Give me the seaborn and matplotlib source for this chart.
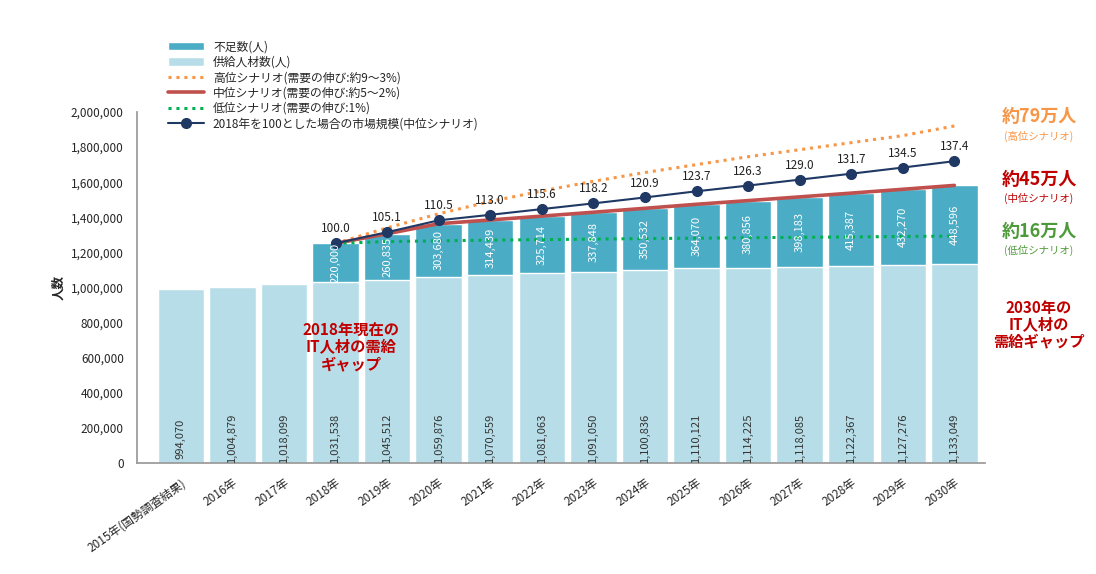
import matplotlib
matplotlib.use("Agg")
import matplotlib.pyplot as plt
import seaborn as sns
import pandas as pd
import numpy as np

sns.set_theme(style="white")
plt.rcParams['font.family'] = ['Noto Sans CJK JP', 'DejaVu Sans']

years = ["2015年(国勢調査結果)", "2016年", "2017年", "2018年", "2019年", "2020年", "2021年", "2022年",
         "2023年", "2024年", "2025年", "2026年", "2027年", "2028年", "2029年", "2030年"]
supply = [994070, 1004879, 1018099, 1031538, 1045512, 1059876, 1070559, 1081063, 1091050,
          1100836, 1110121, 1114225, 1118085, 1122367, 1127276, 1133049]
shortage = [0, 0, 0, 220000, 260835, 303680, 314439, 325714, 337848, 350532, 364070,
            380856, 398183, 415387, 432270, 448596]
high = [1251538, 1340000, 1420000, 1490000, 1550000, 1605000, 1655000, 1700000, 1745000,
        1785000, 1825000, 1865000, 1920000]
low = [1251538, 1262000, 1266000, 1270000, 1273000, 1276000, 1279000, 1281000, 1284000,
       1286000, 1288000, 1291000, 1293000]
market = [100.0, 105.1, 110.5, 113.0, 115.6, 118.2, 120.9, 123.7, 126.3, 129.0, 131.7, 134.5, 137.4]

c_short = "#4BACC6"; c_sup = "#B7DEE8"
c_high = "#F79646"; c_mid = "#C0504D"; c_low = "#00B050"; c_mkt = "#1F3864"

total = [s + g for s, g in zip(supply, shortage)]
df = pd.DataFrame({"year": years, "supply": supply, "total": total})

fig = plt.figure(figsize=(10.96, 5.74), dpi=100)
ax = fig.add_axes([0.125, 0.193, 0.774, 0.612])

sns.barplot(data=df, x="year", y="total", color=c_short, width=0.9, ax=ax, label="不足数(人)", saturation=1)
sns.barplot(data=df, x="year", y="supply", color=c_sup, width=0.9, ax=ax, label="供給人材数(人)", saturation=1)

xs = np.arange(3, 16)
mid = total[3:]
ax.plot(xs, high, ls=(0, (1, 1.6)), lw=2.2, color=c_high, label="高位シナリオ(需要の伸び:約9～3%)")
ax.plot(xs, mid, lw=2.6, color=c_mid, label="中位シナリオ(需要の伸び:約5～2%)")
ax.plot(xs, low, ls=(0, (1, 1.6)), lw=2.2, color=c_low, label="低位シナリオ(需要の伸び:1%)")
mk = [total[3] * m / 100 for m in market]
ax.plot(xs, mk, lw=1.5, color=c_mkt, marker="o", ms=7, label="2018年を100とした場合の市場規模(中位シナリオ)")
for x, y, m in zip(xs, mk, market):
    ax.text(x, y + 45000, f"{m:.1f}", ha="center", va="bottom", fontsize=8.5, color="#222222")

for i in range(16):
    ax.text(i, 140000, f"{supply[i]:,}", rotation=90, ha="center", va="center", fontsize=8, color="#333333")
    if shortage[i]:
        ax.text(i, supply[i] + shortage[i] / 2, f"{shortage[i]:,}", rotation=90, ha="center",
                va="center", fontsize=8, color="white")

ax.set_xlim(-0.85, 15.6)
ax.set_ylim(0, 2000000)
ax.set_yticks(range(0, 2000001, 200000))
ax.yaxis.set_major_formatter(matplotlib.ticker.FuncFormatter(lambda v, p: f"{int(v):,}"))
ax.tick_params(axis="y", labelsize=8.5)
ax.tick_params(axis="x", labelsize=8.5)
plt.setp(ax.get_xticklabels(), rotation=35, ha="right", rotation_mode="anchor")
ax.set_xlabel("")
ax.set_ylabel("人数", fontsize=9, fontweight="bold")
for s in ["top", "right"]:
    ax.spines[s].set_visible(False)
for s in ["left", "bottom"]:
    ax.spines[s].set_color("#999999")

h, l = ax.get_legend_handles_labels()
order = [4, 5, 0, 1, 2, 3]
ax.legend([h[i] for i in order], [l[i] for i in order], loc="upper left",
          bbox_to_anchor=(0.148, 0.94), bbox_transform=fig.transFigure,
          frameon=False, fontsize=8.5, handlelength=3, labelspacing=0.2, borderpad=0)

ax.text(3.3, 800000, "2018年現在の\nIT人材の需給\nギャップ", color="#C00000", fontsize=11,
        fontweight="bold", ha="center", va="top", linespacing=1.05)
fx = 0.948
fig.text(fx, 0.797, "約79万人", color=c_high, fontsize=13, fontweight="bold", ha="center", va="center")
fig.text(fx, 0.762, "(高位シナリオ)", color=c_high, fontsize=7.5, ha="center", va="center")
fig.text(fx, 0.687, "約45万人", color="#C00000", fontsize=13, fontweight="bold", ha="center", va="center")
fig.text(fx, 0.654, "(中位シナリオ)", color="#C00000", fontsize=7.5, ha="center", va="center")
fig.text(fx, 0.596, "約16万人", color="#4E9A3A", fontsize=13, fontweight="bold", ha="center", va="center")
fig.text(fx, 0.564, "(低位シナリオ)", color="#4E9A3A", fontsize=7.5, ha="center", va="center")
fig.text(fx, 0.435, "2030年の\nIT人材の\n需給ギャップ", color="#C00000", fontsize=11, fontweight="bold",
         ha="center", va="center", linespacing=1.05)

fig.savefig("out.png", dpi=100)
